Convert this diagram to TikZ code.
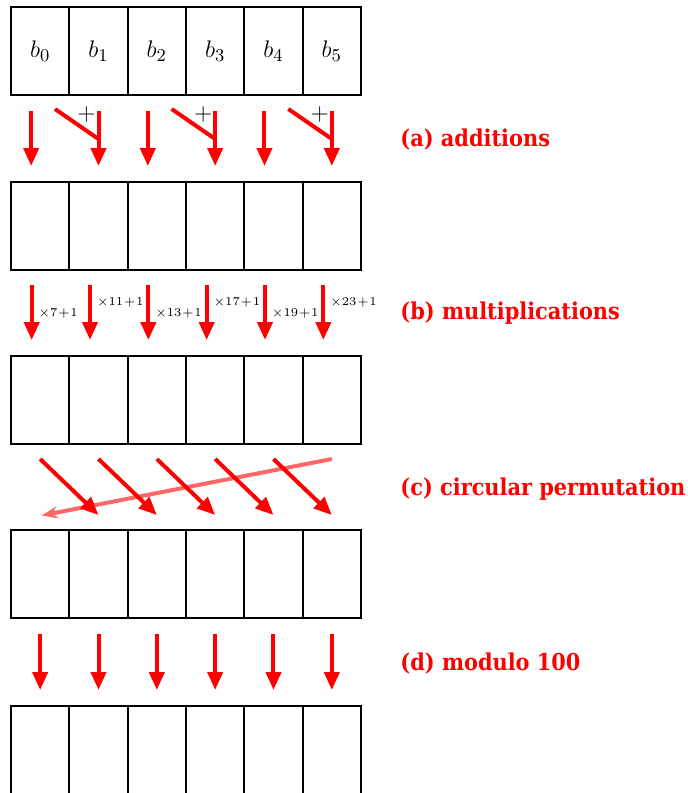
\documentclass[tikz,border=0pt]{standalone}
\usepackage{amsmath}
\usepackage{fontspec}
\usetikzlibrary{positioning,calc,arrows.meta}
\newfontfamily\stageFont{DejaVu Serif Condensed}
\tikzstyle{sheet} = [x = 0.5pt, y = -0.5pt]
\tikzstyle{cellStyle} = [draw, line width = 1pt, minimum width = 29.17pt, minimum height = 44pt, inner sep = 0pt, font = \fontsize{13}{15}\selectfont]
\tikzstyle{stepArrow} = [color=red, line width = 2pt, -{Triangle[length=9pt, width=7.5pt]}]
\tikzstyle{plusLine} = [color=red, line width = 2pt]
\tikzstyle{backArrow} = [color=red!60, line width = 2pt, -{Stealth[length=8pt, width=6pt]}]
\tikzstyle{stageText} = [color=red, anchor=west, inner sep=0pt, font=\stageFont\bfseries\fontsize{11.6}{13}\selectfont]
\tikzstyle{factorText} = [text=black, anchor=west, inner sep=0pt, xshift=2.5pt, font=\fontsize{6}{7}\selectfont]
\newcommand{\cellRow}[2]{
  \foreach \column in {0,...,5} {
    \node [cellStyle] (#1c\column) at (40.17 + 58.33 * \column, #2) {};
  }
}

\begin{document}
\begin{tikzpicture}[sheet]
        \useasboundingbox (0,0) rectangle (687,793);
        % input row
        \foreach \column in {0,...,5} {
          \node [cellStyle] (r1c\column) at (40.17 + 58.33 * \column, 51) {$b_{\column}$};
        }
        \cellRow{r2}{226}
        \cellRow{r3}{400}
        \cellRow{r4}{574}
        \cellRow{r5}{750}

        % (a)
        \foreach \column in {0,2,4} {
          \draw [stepArrow] ($(r1c\column.south)+(-9,15)$) -- ($(r2c\column.north)+(-9,-15)$);
        }
        \foreach \column in {1,3,5} {
          \draw [plusLine] ($(r1c\column.south)+(-43.5,13)$) -- ($(r1c\column.south)+(0,43)$);
          \draw [stepArrow] ($(r1c\column.south)+(0,15)$) -- ($(r2c\column.north)+(0,-15)$);
          \node (plus\column) at ($(r1c\column.south)+(-12,18)$) {\fontsize{13}{15}\selectfont$+$};
        }

        % (b)
        \foreach \column/\factor/\place in {0/7/0.52, 1/11/0.32, 2/13/0.52, 3/17/0.32, 4/19/0.52, 5/23/0.32} {
          \draw [stepArrow] ($(r2c\column.south)+(-8.5,14)$) -- ($(r3c\column.north)+(-8.5,-15)$)
            node [factorText, pos=\place] (factor\column) {$\medmuskip=1mu\times\factor+1$};
        }

        % (c)
        \draw [backArrow] ($(r3c5.south)+(0,14)$) -- ($(r4c0.north)+(1.5,-13.5)$);
        \foreach \column [count=\next from 1] in {0,...,4} {
          \draw [stepArrow] ($(r3c\column.south)+(0,14)$) -- ($(r4c\next.north)+(0,-14)$);
        }

        % (d)
        \foreach \column in {0,...,5} {
          \draw [stepArrow] ($(r4c\column.south)+(0,15)$) -- ($(r5c\column.north)+(0,-15)$);
        }

        \node [stageText] (stageA) at (400,139) {(a) additions};
        \node [stageText] (stageB) at (400,313) {(b) multiplications};
        \node [stageText] (stageC) at (400,489) {(c) circular permutation};
        \node [stageText] (stageD) at (400,663) {(d) modulo 100};
      \end{tikzpicture}
\end{document}
